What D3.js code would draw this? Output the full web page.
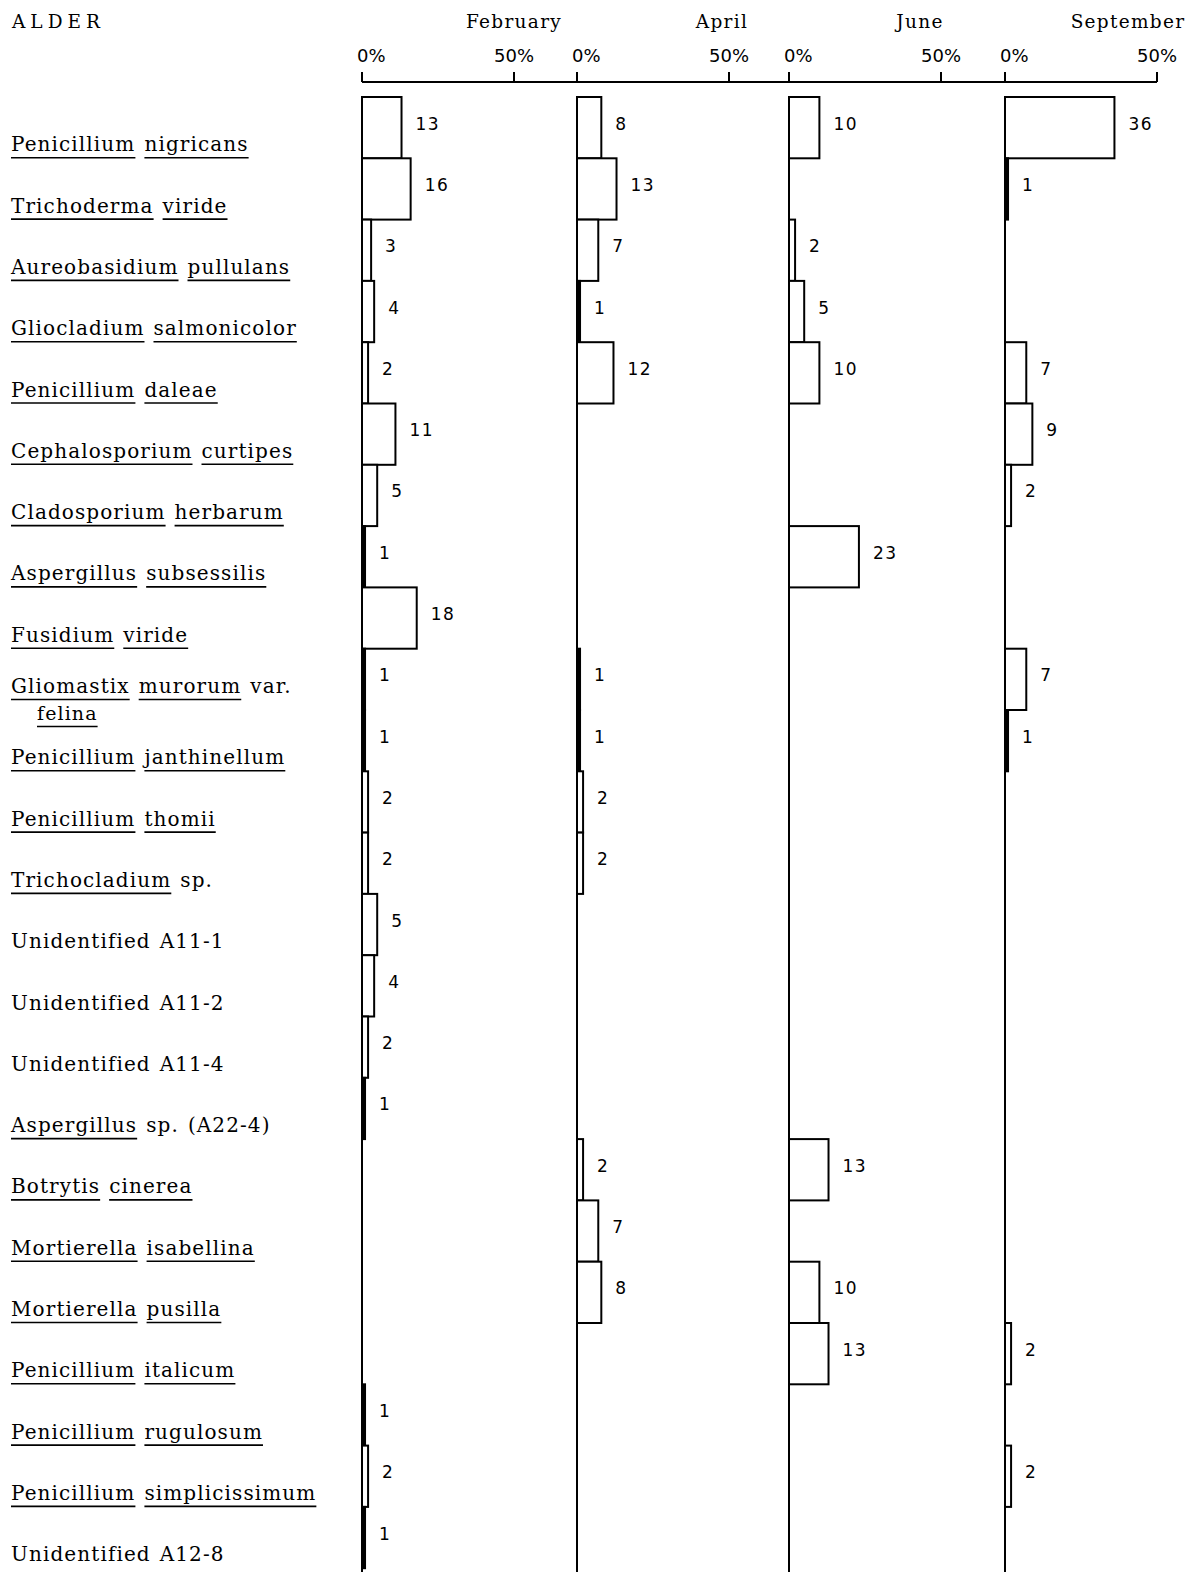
<!DOCTYPE html>
<html>
<head>
<meta charset="utf-8">
<script src="https://cdn.jsdelivr.net/npm/d3@7"></script>
<style>
  body { margin: 0; background: #fff; }
  svg { display: block; }
  .name { font-family: "DejaVu Serif", serif; font-size: 20px; letter-spacing: 1.1px; fill: #000; }
  .title { font-family: "DejaVu Serif", serif; font-size: 18.5px; letter-spacing: 1.3px; fill: #000; }
  .tick { font-family: "DejaVu Sans", sans-serif; font-size: 18px; fill: #000; }
  .val { font-family: "DejaVu Sans", sans-serif; font-size: 17px; letter-spacing: 1.5px; fill: #000; }
</style>
</head>
<body>
<div id="chart"></div>
<script>
// Species, top to bottom
const species = [
  "Penicillium nigricans", "Trichoderma viride", "Aureobasidium pullulans",
  "Gliocladium salmonicolor", "Penicillium daleae", "Cephalosporium curtipes",
  "Cladosporium herbarum", "Aspergillus subsessilis", "Fusidium viride",
  "Gliomastix murorum var. felina", "Penicillium janthinellum", "Penicillium thomii",
  "Trichocladium sp.", "Unidentified A11-1", "Unidentified A11-2", "Unidentified A11-4",
  "Aspergillus sp. (A22-4)", "Botrytis cinerea", "Mortierella isabellina",
  "Mortierella pusilla", "Penicillium italicum", "Penicillium rugulosum",
  "Penicillium simplicissimum", "Unidentified A12-8"
];

const months = ["February", "April", "June", "September"];
const tickValues = [0, 50];

// percent of isolates per month (null = not found)
const february  = [13, 16, 3, 4, 2, 11, 5, 1, 18, 1, 1, 2, 2, 5, 4, 2, 1, null, null, null, null, 1, 2, 1];
const april     = [8, 13, 7, 1, 12, null, null, null, null, 1, 1, 2, 2, null, null, null, null, 2, 7, 8, null, null, null, null];
const june      = [10, null, 2, 5, 10, null, null, 23, null, null, null, null, null, null, null, null, null, 13, null, 10, 13, null, null, null];
const september = [36, 1, null, null, 7, 9, 2, null, null, 7, 1, null, null, null, null, null, null, null, null, null, 2, null, 2, null];
const series = [february, april, june, september];

// layout
const width = 1192, height = 1572;
const panelZero = [362, 577, 789, 1005];
const panelWidth = 152;
const titleShift = [0, -7, -21, -29];
const axisY = 82;
const topY = 97, rowH = 61.3;

const svg = d3.select("#chart").append("svg")
    .attr("width", width)
    .attr("height", height);

const y = d3.scaleBand()
    .domain(species)
    .range([topY, topY + rowH * species.length])
    .padding(0);

const xs = panelZero.map(z => d3.scaleLinear().domain([0, 50]).range([z, z + panelWidth]));

// header
svg.append("text").attr("class", "title")
    .attr("x", 12).attr("y", 28)
    .style("letter-spacing", "5px").style("font-size", "18.5px")
    .text("ALDER");

// top axis line
svg.append("line")
    .attr("x1", xs[0](0)).attr("x2", xs[3](50))
    .attr("y1", axisY).attr("y2", axisY)
    .attr("stroke", "#000").attr("stroke-width", 2);

months.forEach((m, i) => {
    const x = xs[i];
    svg.append("text").attr("class", "title")
        .attr("x", x(50) + titleShift[i]).attr("y", 28)
        .attr("text-anchor", "middle")
        .text(m);

    const g = svg.append("g");
    g.selectAll("line.tk").data(tickValues).enter().append("line")
        .attr("x1", d => x(d)).attr("x2", d => x(d))
        .attr("y1", axisY).attr("y2", axisY - 10)
        .attr("stroke", "#000").attr("stroke-width", 2);
    g.selectAll("text.tk").data(tickValues).enter().append("text")
        .attr("class", "tick")
        .attr("x", d => d === 0 ? x(d) - 5 : x(d))
        .attr("y", 62)
        .attr("text-anchor", d => d === 0 ? "start" : "middle")
        .text(d => d + "%");

    // zero line
    g.append("line")
        .attr("x1", x(0)).attr("x2", x(0))
        .attr("y1", topY).attr("y2", height)
        .attr("stroke", "#000").attr("stroke-width", 2);

    const rows = species.map((s, j) => ({ s, v: series[i][j] })).filter(d => d.v != null);

    g.selectAll("rect").data(rows).enter().append("rect")
        .attr("x", x(0))
        .attr("y", d => y(d.s))
        .attr("width", d => x(d.v) - x(0))
        .attr("height", y.bandwidth())
        .attr("fill", d => d.v <= 1 ? "#000" : "#fff")
        .attr("stroke", "#000")
        .attr("stroke-width", 2);

    g.selectAll("text.val").data(rows).enter().append("text")
        .attr("class", "val")
        .attr("x", d => x(d.v) + 14)
        .attr("y", d => y(d.s) + y.bandwidth() / 2 - 4)
        .attr("dominant-baseline", "central")
        .text(d => d.v);
});

// species labels, genus and epithet underlined
const plain = ["var.", "sp.", "(A22-4)"];
species.forEach(s => {
    const base = y(s) + y.bandwidth() - 7;
    const words = s.split(" ");
    const unidentified = s.startsWith("Unidentified");
    let lines = [words];
    const vi = words.indexOf("var.");
    if (vi >= 0) lines = [words.slice(0, vi + 1), words.slice(vi + 1)];
    lines.forEach((ws, li) => {
        let cx = li === 0 ? 11 : 37;
        const by = lines.length > 1 ? base - 10 + li * 27 : base;
        ws.forEach(w => {
            const t = svg.append("text").attr("class", "name")
                .attr("x", cx).attr("y", by).text(w);
            if (li > 0) t.style("font-size", "19px");
            const wlen = t.node().getComputedTextLength();
            if (!unidentified && !plain.includes(w)) {
                svg.append("line")
                    .attr("x1", cx).attr("x2", cx + wlen)
                    .attr("y1", by + 6.5).attr("y2", by + 6.5)
                    .attr("stroke", "#000").attr("stroke-width", 1.6);
            }
            cx += wlen + 9;
        });
    });
});
</script>
</body>
</html>
